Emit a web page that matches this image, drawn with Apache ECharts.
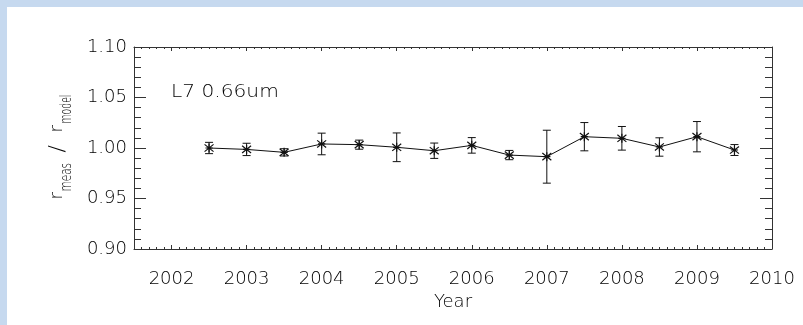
<!DOCTYPE html>
<html>
<head>
<meta charset="utf-8">
<script src="https://cdn.jsdelivr.net/npm/echarts@6/dist/echarts.min.js"></script>
<style>
  html, body { margin: 0; padding: 0; background: #fff; }
  #chart { width: 803px; height: 325px; }
</style>
</head>
<body>
<div id="chart"></div>
<script>
// Half-yearly ratio of measured to modelled reflectance, with 1-sigma spread
const years = [2002.5, 2003.0, 2003.5, 2004.0, 2004.5, 2005.0, 2005.5, 2006.0,
               2006.5, 2007.0, 2007.5, 2008.0, 2008.5, 2009.0, 2009.5];
const ratio = [1.0000, 0.9986, 0.9957, 1.0040, 1.0033, 1.0007, 0.9973, 1.0026,
               0.9930, 0.9914, 1.0112, 1.0096, 1.0010, 1.0112, 0.9980];
const ratioErr = [0.0056, 0.0061, 0.0036, 0.0107, 0.0045, 0.0142, 0.0076, 0.0077,
                  0.0046, 0.0262, 0.0140, 0.0117, 0.0091, 0.0150, 0.0054];

// Axis ticks
const xTickLabels = [2002, 2003, 2004, 2005, 2006, 2007, 2008, 2009, 2010];
const yTickLabels = [0.90, 0.95, 1.00, 1.05, 1.10];
const xRange = [2001.5, 2010];
const yRange = [0.90, 1.10];

const bandLabel = 'L7 0.66um';
const xTitle = 'Year';

const FONT = 'DejaVu Sans';
const WEIGHT = 200;
const INK = '#000';
const AXIS = '#333';

const chart = echarts.init(document.getElementById('chart'), null, { renderer: 'canvas' });

const gridRect = { left: 134, top: 47, width: 638, height: 202 };

const majorX = (position, withLabels) => ({
  type: 'value', gridIndex: 0, position,
  min: xRange[0], max: xRange[1], interval: 0.5,
  axisLine: { show: true, onZero: false, lineStyle: { color: AXIS, width: 1 } },
  axisTick: { show: true, inside: true, length: 4, customValues: xTickLabels,
              lineStyle: { color: AXIS, width: 1 } },
  axisLabel: withLabels ? {
    show: true, customValues: xTickLabels, margin: 21,
    fontFamily: FONT, fontWeight: WEIGHT, fontSize: 18, color: INK,
    formatter: v => String(Math.round(v))
  } : { show: false },
  splitLine: { show: false },
  name: withLabels ? xTitle : '',
  nameLocation: 'middle', nameGap: 42,
  nameTextStyle: { fontFamily: FONT, fontWeight: WEIGHT, fontSize: 18, color: INK }
});

const minorX = (position) => ({
  type: 'value', gridIndex: 1, position,
  min: xRange[0], max: xRange[1], interval: 0.1,
  axisLine: { show: false },
  axisTick: { show: true, inside: true, length: 2, lineStyle: { color: AXIS, width: 1 } },
  axisLabel: { show: false },
  splitLine: { show: false }
});

const majorY = (position, withLabels) => ({
  type: 'value', gridIndex: 0, position,
  min: yRange[0], max: yRange[1], interval: 0.05,
  axisLine: { show: true, onZero: false, lineStyle: { color: AXIS, width: 1 } },
  axisTick: { show: true, inside: true, length: 12, customValues: yTickLabels,
              lineStyle: { color: AXIS, width: 1 } },
  minorTick: { show: true, splitNumber: 5, length: 7, lineStyle: { color: AXIS, width: 1 } },
  axisLabel: withLabels ? {
    show: true, customValues: yTickLabels, margin: 7,
    fontFamily: FONT, fontWeight: WEIGHT, fontSize: 18, color: INK,
    formatter: v => v.toFixed(2)
  } : { show: false },
  splitLine: { show: false },
  minorSplitLine: { show: false }
});

const textStyle = (text, size) => ({
  text, fontFamily: FONT, fontWeight: WEIGHT, fontSize: size, fill: INK,
  align: 'left', verticalAlign: 'middle'
});

const option = {
  animation: false,
  backgroundColor: '#ffffff',
  grid: [
    Object.assign({ containLabel: false }, gridRect),
    Object.assign({ containLabel: false }, gridRect)
  ],
  xAxis: [
    majorX('bottom', true),
    majorX('top', false),
    minorX('bottom'),
    minorX('top')
  ],
  yAxis: [
    majorY('left', true),
    majorY('right', false),
    { type: 'value', gridIndex: 1, min: yRange[0], max: yRange[1], show: false }
  ],
  series: [
    {
      type: 'custom',
      name: 'spread',
      xAxisIndex: 0, yAxisIndex: 0,
      silent: true,
      data: years.map((y, i) => [y, ratio[i] - ratioErr[i], ratio[i] + ratioErr[i]]),
      encode: { x: 0, y: [1, 2] },
      renderItem(params, api) {
        const x = api.value(0);
        const lo = api.coord([x, api.value(1)]);
        const hi = api.coord([x, api.value(2)]);
        const w = 4;
        const style = { stroke: '#111', lineWidth: 1 };
        return {
          type: 'group',
          children: [
            { type: 'line', shape: { x1: lo[0], y1: lo[1], x2: hi[0], y2: hi[1] }, style },
            { type: 'line', shape: { x1: lo[0] - w, y1: lo[1], x2: lo[0] + w, y2: lo[1] }, style },
            { type: 'line', shape: { x1: hi[0] - w, y1: hi[1], x2: hi[0] + w, y2: hi[1] }, style }
          ]
        };
      },
      z: 3
    },
    {
      type: 'line',
      name: 'ratio',
      xAxisIndex: 0, yAxisIndex: 0,
      data: years.map((y, i) => [y, ratio[i]]),
      symbol: 'path://M5,0L5,10M0,1L10,9M0,9L10,1M1,5L9,5',
      symbolSize: 9,
      symbolKeepAspect: true,
      showSymbol: true,
      itemStyle: { color: 'transparent', borderColor: '#111', borderWidth: 1.2 },
      lineStyle: { color: '#111', width: 1 },
      emphasis: { disabled: true },
      silent: true,
      z: 4
    }
  ],
  graphic: [
    // light blue page frame along the top and left edges
    { type: 'rect', left: 0, top: 0, shape: { width: 803, height: 7 },
      style: { fill: '#c6d9ef' }, silent: true },
    { type: 'rect', left: 0, top: 0, shape: { width: 7, height: 325 },
      style: { fill: '#c6d9ef' }, silent: true },
    // in-plot band label
    { type: 'text', x: 171, y: 92.5, scaleX: 1.12, silent: true, style: textStyle(bandLabel, 18) },
    // y-axis title: r_meas / r_model, read bottom to top
    {
      type: 'group', x: 57, y: 199.5, rotation: Math.PI / 2, silent: true,
      children: [
        { type: 'text', x: 0, y: 0, style: textStyle('r', 18) },
        { type: 'text', x: 8, y: 10, scaleX: 0.7, style: textStyle('meas', 15) },
        { type: 'text', x: 47, y: 1, style: textStyle('/', 22) },
        { type: 'text', x: 67, y: 0, style: textStyle('r', 18) },
        { type: 'text', x: 76, y: 10, scaleX: 0.62, style: textStyle('model', 15) }
      ]
    }
  ]
};

chart.setOption(option);
</script>
</body>
</html>
